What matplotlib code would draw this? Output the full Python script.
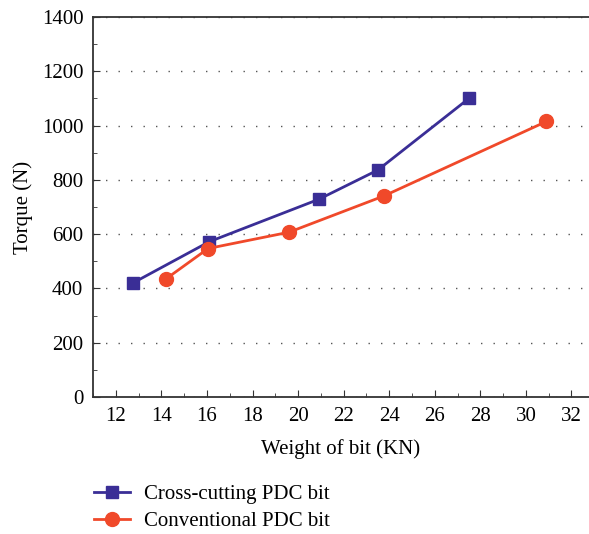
import matplotlib.pyplot as plt
from matplotlib.ticker import MultipleLocator

plt.rcParams['font.family'] = ['Liberation Serif', 'DejaVu Serif']

# weight on bit (KN) vs torque (N)
cross_wob = [12.75, 16.1, 20.9, 23.5, 27.5]
cross_torque = [420, 572, 728, 836, 1100]
conv_wob = [14.2, 16.05, 19.6, 23.75, 30.9]
conv_torque = [435, 547, 607, 740, 1015]

BLUE = '#3a2e96'
RED = '#f0492a'

fig = plt.figure(figsize=(5.89, 5.34), dpi=100)
ax = fig.add_axes([0.158, 0.2566, 0.842, 0.7116])

ax.plot(cross_wob, cross_torque, color=BLUE, lw=2, marker='s', ms=9,
        label='Cross-cutting PDC bit')
ax.plot(conv_wob, conv_torque, color=RED, lw=2, marker='o', ms=10,
        label='Conventional PDC bit')

ax.set_xlim(11, 32.77)
ax.set_ylim(0, 1400)
ax.xaxis.set_major_locator(MultipleLocator(2))
ax.xaxis.set_minor_locator(MultipleLocator(1))
ax.yaxis.set_major_locator(MultipleLocator(200))
ax.yaxis.set_minor_locator(MultipleLocator(100))
ax.tick_params(which='both', direction='in', labelsize=15, color='#333333')
ax.tick_params(which='major', length=5)
ax.tick_params(which='minor', length=3)
ax.tick_params(axis='x', pad=7)
ax.tick_params(axis='y', pad=7)

ax.spines['right'].set_visible(False)
for s in ['left', 'bottom', 'top']:
    ax.spines[s].set_color('#333333')
    ax.spines[s].set_linewidth(1.3)

ax.grid(axis='y', which='major', color='#555555', lw=1, linestyle=(0, (1, 8)))
ax.set_axisbelow(True)

ax.set_xlabel('Weight of bit (KN)', fontsize=15, labelpad=10)
ax.set_ylabel('Torque (N)', fontsize=15, labelpad=6)

handles, labels = ax.get_legend_handles_labels()
fig.legend(handles, labels, loc='lower left', bbox_to_anchor=(0.16, 0.006),
           frameon=False, fontsize=15, handlelength=1.7, handletextpad=0.7,
           labelspacing=0.35, borderpad=0, borderaxespad=0)

fig.savefig('out.png', dpi=100)
